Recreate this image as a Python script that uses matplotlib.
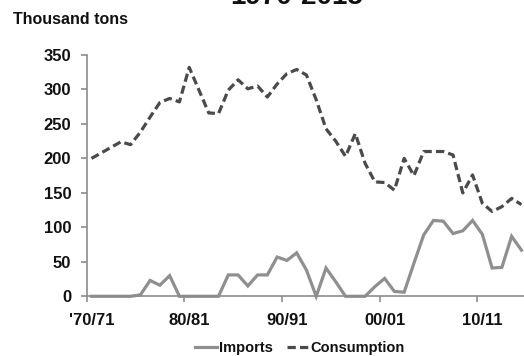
import matplotlib
matplotlib.use("Agg")
import matplotlib.pyplot as plt
import numpy as np

plt.rcParams["font.family"] = ["Liberation Sans", "DejaVu Sans"]
plt.rcParams["font.weight"] = "bold"

# Marketing years 1970/71 .. 2014/15
start_years = list(range(1970, 2015))
tick_labels = ["'70/71", "80/81", "90/91", "00/01", "10/11"]

imports = [0, 0, 0, 0, 0, 2, 23, 16, 30, 0,
           0, 0, 0, 0, 31, 31, 15, 31, 31, 57,
           52, 63, 38, 0, 41, 21, 0, 0, 0, 14,
           26, 7, 6, 48, 89, 110, 109, 91, 95, 110,
           90, 41, 42, 87, 67]

consumption = [200, 208, 216, 224, 220, 238, 260, 281, 287, 282,
               332, 299, 266, 265, 299, 314, 301, 305, 289, 308,
               323, 329, 321, 285, 243, 225, 203, 236, 193, 166,
               165, 154, 200, 175, 210, 210, 210, 205, 150, 176,
               135, 123, 130, 142, 133]

W, H = 524, 356
fig = plt.figure(figsize=(W / 100, H / 100), dpi=100)
ax = fig.add_axes([86.6 / W, 59.7 / H, 439.7 / W, 241.3 / H])

x = np.arange(len(start_years))
axis_gray = "#8c8c8c"
text_col = "#111111"

ax.plot(x, imports, color="#8f8f8f", lw=2.3, solid_joinstyle="miter",
        label="Imports", clip_on=False)
ax.plot(x, consumption, color="#4a4a4a", lw=2.3, dashes=(2.6, 1.3),
        dash_capstyle="butt", label="Consumption", clip_on=False)

ax.set_xlim(-0.5, len(start_years) - 0.5)
ax.set_ylim(0, 350)

for side in ("top", "right"):
    ax.spines[side].set_visible(False)
for side in ("left", "bottom"):
    ax.spines[side].set_color(axis_gray)
    ax.spines[side].set_linewidth(1.2)

ax.set_yticks(np.arange(0, 351, 50))
ax.tick_params(axis="y", direction="out", length=4, width=1.2,
               color=axis_gray, pad=7, labelsize=12, labelcolor=text_col)

# labels centred on the categories, tick marks on the decade boundaries
ax.set_xticks(x[::10])
ax.set_xticklabels(tick_labels)
ax.tick_params(axis="x", which="major", length=0, pad=12, labelsize=12,
               labelcolor=text_col)
ax.set_xticks(np.arange(-0.5, len(start_years), 10), minor=True)
ax.tick_params(axis="x", which="minor", direction="out", length=4.5,
               width=1.2, color=axis_gray)

for lab in ax.get_xticklabels() + ax.get_yticklabels():
    lab.set_fontweight("bold")

fig.text(13 / W, 1 - 20 / H, "Thousand tons", fontsize=11.5,
         fontweight="bold", color=text_col, va="center", ha="left")
fig.text(297 / W, 1 - 4 / H, "1970-2015", fontsize=20, fontweight="bold",
         color=text_col, va="baseline", ha="center")

leg = fig.legend(loc="center", bbox_to_anchor=(300 / W, 8 / H), ncol=2,
                 frameon=False, fontsize=10.5, handlelength=1.5,
                 handletextpad=0.1, columnspacing=1.0)
for t in leg.get_texts():
    t.set_fontweight("bold")
    t.set_color(text_col)

fig.savefig("out.png", dpi=100)
